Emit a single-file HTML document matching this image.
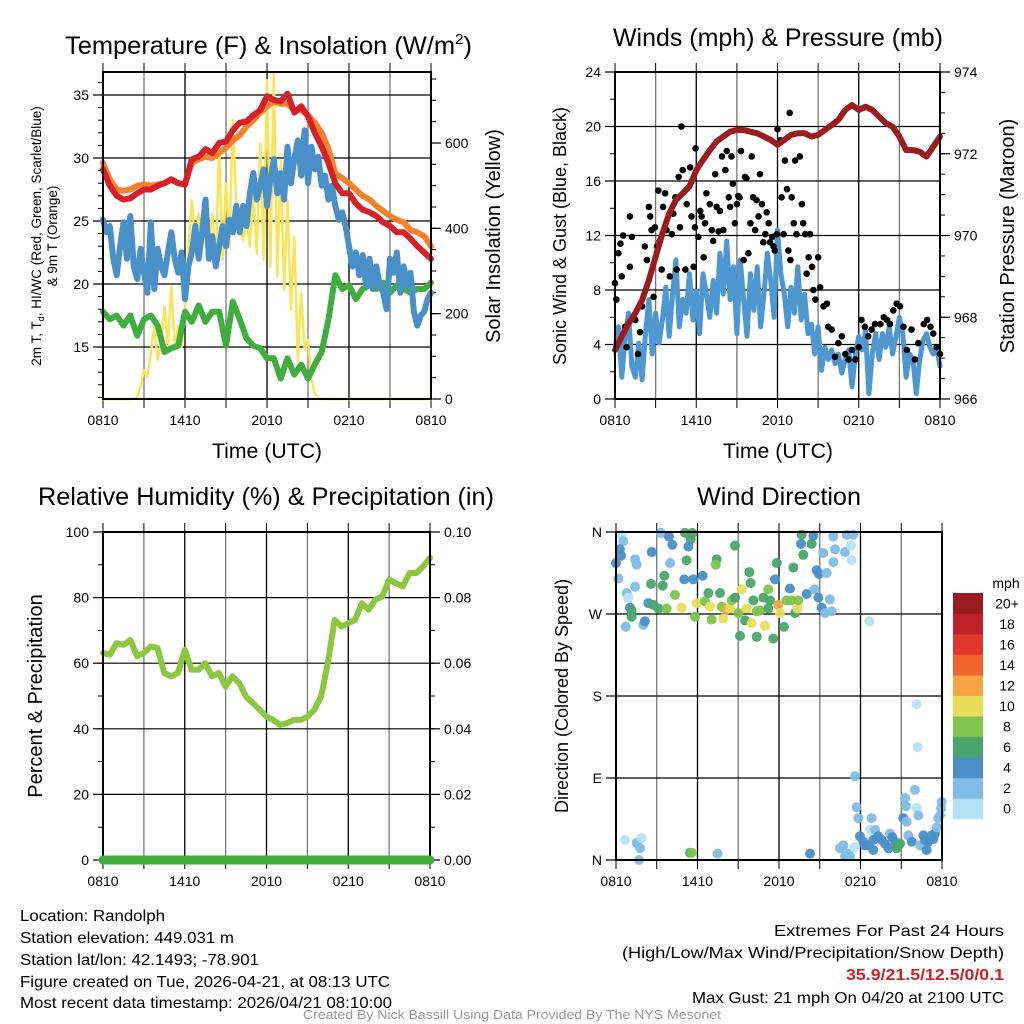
<!DOCTYPE html>
<html><head><meta charset="utf-8"><style>
body{margin:0;background:#fff}
svg{display:block;font-family:"Liberation Sans",Arial,sans-serif}
</style></head><body>
<svg id="chart" width="1024" height="1024" viewBox="0 0 1024 1024" xmlns="http://www.w3.org/2000/svg">
<g id="texts">
<text x="65" y="54" font-size="25" textLength="407" lengthAdjust="spacingAndGlyphs">Temperature (F) &amp; Insolation (W/m<tspan font-size="15" dy="-10">2</tspan><tspan dy="10">)</tspan></text>
<text x="613" y="46" font-size="25" textLength="330" lengthAdjust="spacingAndGlyphs">Winds (mph) &amp; Pressure (mb)</text>
<text x="38" y="505" font-size="25" textLength="456" lengthAdjust="spacingAndGlyphs">Relative Humidity (%) &amp; Precipitation (in)</text>
<text x="697" y="505" font-size="25" textLength="164" lengthAdjust="spacingAndGlyphs">Wind Direction</text>
<text x="212" y="458" font-size="21" textLength="110" lengthAdjust="spacingAndGlyphs">Time (UTC)</text>
<text x="723" y="458" font-size="21" textLength="110" lengthAdjust="spacingAndGlyphs">Time (UTC)</text>
<text transform="translate(41,236) rotate(-90)" font-size="13.5" text-anchor="middle">2m T, T<tspan font-size="9" dy="3">d</tspan><tspan dy="-3">, HI/WC (Red, Green, Scarlet/Blue)</tspan></text>
<text transform="translate(57,236) rotate(-90)" font-size="13.5" text-anchor="middle">&amp; 9m T (Orange)</text>
<text transform="translate(500,236) rotate(-90)" font-size="20" text-anchor="middle">Solar Insolation (Yellow)</text>
<text transform="translate(566,236) rotate(-90)" font-size="18" text-anchor="middle">Sonic Wind &amp; Gust (Blue, Black)</text>
<text transform="translate(1014,236) rotate(-90)" font-size="20" text-anchor="middle">Station Pressure (Maroon)</text>
<text transform="translate(42,696) rotate(-90)" font-size="20" text-anchor="middle">Percent &amp; Precipitation</text>
<text transform="translate(568,696) rotate(-90)" font-size="18" text-anchor="middle">Direction (Colored By Speed)</text>
<g font-size="16">
<text x="20" y="921" textLength="145" lengthAdjust="spacingAndGlyphs">Location: Randolph</text>
<text x="20" y="943" textLength="214" lengthAdjust="spacingAndGlyphs">Station elevation: 449.031 m</text>
<text x="20" y="965" textLength="239" lengthAdjust="spacingAndGlyphs">Station lat/lon: 42.1493; -78.901</text>
<text x="20" y="987" textLength="370" lengthAdjust="spacingAndGlyphs">Figure created on Tue, 2026-04-21, at 08:13 UTC</text>
<text x="20" y="1008" textLength="372" lengthAdjust="spacingAndGlyphs">Most recent data timestamp: 2026/04/21 08:10:00</text>
</g>
<g font-size="16">
<text x="774" y="936" textLength="230" lengthAdjust="spacingAndGlyphs">Extremes For Past 24 Hours</text>
<text x="622" y="958" textLength="382" lengthAdjust="spacingAndGlyphs">(High/Low/Max Wind/Precipitation/Snow Depth)</text>
<text x="846" y="980" textLength="158" lengthAdjust="spacingAndGlyphs" fill="#d0202a" font-weight="bold">35.9/21.5/12.5/0/0.1</text>
<text x="692" y="1003" textLength="312" lengthAdjust="spacingAndGlyphs">Max Gust: 21 mph On 04/20 at 2100 UTC</text>
</g>
<text x="303" y="1019" font-size="13" fill="#999" textLength="418" lengthAdjust="spacingAndGlyphs">Created By Nick Bassill Using Data Provided By The NYS Mesonet</text>
<text x="1006" y="588" font-size="14" text-anchor="middle">mph</text>
</g>
</svg>
<script>
// ---------- data ----------
const xTickLabels = ["0810","1410","2010","0210","0810"];
const tempTicks = [15,20,25,30,35];
const solarTicks = [0,200,400,600];
const windTicks = [0,4,8,12,16,20,24];
const pressTicks = [966,968,970,972,974];
const rhTicks = [0,20,40,60,80,100];
const precipTicks = ["0.00","0.02","0.04","0.06","0.08","0.10"];
const dirTickLabels = ["N","E","S","W","N"];
const speedBins = ["0","2","4","6","8","10","12","14","16","18","20+"];
const speedColors = ["#b6e2f6","#7fbde8","#4a8fc7","#4aa56c","#80c34f","#e8dd5a","#f8a443","#f0652b","#e0392b","#c0202a","#9b1c1f"];

const temp2m = [29.1,27.8,27.0,26.7,26.8,27.2,27.5,27.5,27.8,28.0,28.3,28.0,27.9,29.9,30.1,30.7,30.4,31.2,31.3,32.2,32.8,32.9,33.4,33.8,34.9,34.6,34.5,35.1,33.6,34.1,33.3,32.0,30.9,29.6,28.0,27.2,27.2,26.4,25.9,25.7,25.4,24.9,24.6,24.1,24.1,23.6,23.0,22.5,22.0];
const temp9m = [29.6,28.3,27.5,27.4,27.5,27.8,27.9,27.8,27.9,28.0,28.3,28.0,27.9,29.6,29.9,30.1,30.0,30.4,30.8,31.4,31.8,32.5,33.0,33.6,34.1,34.5,34.3,34.3,33.8,33.8,33.4,32.8,32.0,30.7,28.8,28.4,28.0,27.5,27.0,26.7,26.2,25.8,25.4,25.1,24.9,24.3,24.1,23.8,23.0];
const dewpoint = [17.8,17.2,17.5,16.7,17.5,15.9,17.2,17.5,16.7,14.6,14.9,15.1,17.8,17.0,18.3,17.0,17.8,17.8,15.1,18.6,17.2,15.7,15.1,14.9,14.1,14.1,12.5,14.1,12.8,13.6,12.5,13.6,14.6,17.2,20.7,19.6,19.9,18.8,19.6,19.9,19.6,20.1,19.3,19.9,19.6,19.3,19.6,19.6,20.1];
const windChill = [25.1,24.1,24.6,22.0,20.7,23.0,24.9,22.0,25.4,21.4,20.4,22.8,20.9,19.3,24.9,19.6,22.8,21.4,20.7,22.5,24.1,22.0,20.9,22.5,18.8,21.4,22.5,24.6,22.0,24.1,26.7,22.0,23.8,21.4,23.0,24.6,23.0,25.1,24.1,26.2,24.1,26.2,24.6,27.2,28.8,26.7,27.8,29.1,26.2,28.3,29.9,27.2,28.8,26.7,30.9,28.0,29.9,31.4,28.6,32.2,28.0,30.9,29.1,30.1,27.8,28.6,26.7,27.8,26.2,25.1,25.7,24.6,23.0,21.4,22.5,20.7,22.3,19.9,22.0,19.6,21.4,19.9,19.3,18.0,22.0,20.9,22.5,19.3,21.4,19.9,20.9,17.8,16.7,17.5,17.8,18.8,19.3];
const solar = [0,0,0,0,0,0,0,0,0,0,5,29,68,52,107,170,91,130,216,123,263,123,170,123,208,357,466,357,435,357,466,373,435,310,599,326,505,357,654,458,404,373,427,357,482,341,599,326,747,310,763,287,560,255,466,208,380,91,248,115,138,45,13,2,0,0,0,0,0,0,0,0,0,0,0,0,0,0,0,0,0,0,0,0,0,0,0,0,0,0,0,0,0,0,0,0,0];
const pressure = [967.20,967.53,967.85,968.10,968.42,968.91,969.48,970.05,970.54,970.87,971.03,971.20,971.60,971.85,972.09,972.30,972.42,972.54,972.58,972.58,972.54,972.50,972.42,972.34,972.22,972.34,972.46,972.50,972.50,972.42,972.46,972.58,972.70,972.83,973.07,973.19,973.07,973.15,973.07,972.91,972.75,972.66,972.42,972.09,972.09,972.05,971.93,972.17,972.42];
const sonicWind = [3.6,5.3,1.6,4.6,6.3,2.4,1.6,4.1,1.4,4.8,7.3,3.3,6.3,4.1,5.8,8.2,4.6,7.7,10.2,5.3,7.3,6.3,9.2,5.8,7.9,4.8,9.2,7.7,6.0,8.7,6.3,10.7,7.7,11.6,7.3,9.7,4.8,10.2,7.3,4.6,9.2,6.5,9.7,5.3,7.7,10.7,8.7,6.0,12.4,9.2,7.7,5.3,8.2,6.3,9.7,5.8,7.7,4.8,5.5,3.3,5.3,2.1,3.8,2.9,3.6,2.6,3.3,1.9,2.9,3.6,0.9,3.3,4.6,3.6,5.0,0.4,3.3,4.8,2.9,4.8,3.8,5.3,3.3,4.6,6.0,4.8,1.6,3.3,2.9,0.4,2.9,4.3,4.8,3.8,3.3,3.8,2.4];
const gustTimes = [0,0.1,0.25,0.4,0.5,0.6,0.75,0.85,1.1,1.25,1.1,1.5,1.7,1.85,2,2.2,2.35,2.5,2.6,2.7,2.85,2.95,3.1,3.2,3.3,3.45,3.55,3.7,3.8,4.05,4.2,4.3,4.45,4.55,4.7,4.8,4.9,5.0,5.2,5.3,5.55,5.65,5.8,5.9,5.95,6.15,6.3,6.4,6.55,6.65,6.75,7.0,7.15,7.25,7.4,7.5,7.65,7.75,7.9,8.0,8.15,8.25,8.4,8.5,8.6,8.7,8.85,9.0,9.1,9.2,9.3,9.5,9.6,9.7,9.85,10.0,10.1,10.2,10.35,10.45,10.6,10.7,10.85,10.95,11.1,11.2,11.35,11.45,11.6,11.7,11.8,11.95,12.0,12.2,12.3,12.45,12.55,12.7,12.8,12.9,12.95,13.05,13.2,13.3,13.4,13.65,13.8,13.9,14.05,14.15,14.3,14.4,14.55,14.65,14.8,15.0,15.15,15.4,15.65,15.75,16.0,16.25,16.5,16.75,17.0,17.25,17.5,17.75,18.0,18.2,18.45,18.7,18.95,19.2,19.6,19.85,20.1,20.3,20.55,20.8,21.05,21.3,21.55,21.9,22.15,22.4,22.8,23.05,23.3,23.5,23.75,24.0];
const gustValues = [8.5,7.3,10.7,11.4,9.0,12.0,5.3,3.8,13.4,11.9,9.7,5.8,3.3,4.9,6.8,11.2,10.2,14.1,13.4,12.4,7.5,12.6,11.2,15.3,11.6,9.5,14.1,15.1,12.4,9.0,12.1,13.6,14.8,9.5,16.3,12.6,20.0,16.8,9.5,14.3,17.0,13.4,9.7,12.6,18.4,11.9,13.8,13.4,10.4,12.9,15.1,14.3,12.4,11.6,16.5,14.1,12.3,13.8,17.8,12.4,16.8,18.2,14.8,14.1,17.8,15.8,12.9,14.3,14.9,14.8,18.2,10.2,16.3,16.2,10.7,12.9,17.8,14.8,12.4,14.6,13.4,16.5,14.3,11.5,12.1,13.7,12.9,11.5,11.9,11.2,10.9,12.1,19.8,19.0,14.8,12.1,17.5,15.4,10.9,21.0,10.2,14.8,12.9,17.5,12.1,17.8,14.3,12.9,12.1,9.2,10.4,12.1,9.7,8.0,7.3,10.4,8.2,6.8,7.0,5.3,5.1,3.1,4.1,4.6,3.3,2.9,3.6,2.9,3.8,5.8,5.3,4.6,5.1,5.5,5.5,6.0,5.8,5.5,6.5,7.0,6.8,5.3,3.6,5.1,2.9,4.1,5.5,5.8,5.3,4.8,3.8,3.3];
const rh = [63.1,62.6,66.1,65.6,67.1,62.1,63.1,65.1,64.6,57.0,56.0,57.0,64.1,58.0,58.0,60.0,56.0,57.0,52.9,56.0,53.9,49.8,47.8,45.8,43.7,42.7,41.2,41.7,42.7,42.7,43.7,45.8,49.8,60.0,73.2,71.2,72.2,73.2,78.3,76.3,79.4,80.4,85.5,84.4,83.4,87.5,87.5,89.5,92.1];
const precip = [0,0,0,0,0,0,0,0,0,0,0,0,0,0,0,0,0,0,0,0,0,0,0,0,0];
const dirTimes = [0.42,0.54,0.29,0.37,0,0.17,1.4,1.52,0.79,0.91,1.4,1.03,1.15,1.15,0.71,2.01,2.13,2.63,3.31,3.9,4.15,3.98,5.08,5.62,5.5,5.33,5.2,5.03,5.69,6.38,3.56,3.44,2.58,2.38,2.75,3.12,3.73,4.34,4.83,5.82,5.94,6.55,6.92,7.04,6.8,7.41,7.34,7.66,7.78,8.15,8.39,7.9,8.76,8.52,8.76,9.01,9.25,9.13,9.5,9.62,9.99,9.82,9.91,10.11,10.36,10.6,10.97,10.36,10.85,11.21,11.34,11.21,11.58,11.71,11.83,11.95,12.07,12.37,12.56,12.93,13.06,12.81,13.18,13.37,13.42,13.67,13.79,13.62,14.04,14.4,14.53,14.6,14.9,14.77,14.94,15.14,15.51,15.39,15.26,15.88,15.75,16.0,16.12,16.0,16.86,16.98,17.47,17.3,17.35,18.65,22.13,22.21,17.6,0.66,1.52,1.89,1.77,1.69,5.45,5.57,7.48,14.28,16.49,16.74,16.86,17.1,17.23,17.55,17.72,17.84,17.96,18.21,18.33,18.58,18.7,18.82,18.94,19.07,18.94,19.31,19.56,19.8,20.05,20.17,20.34,20.54,20.66,20.79,20.91,21.15,21.28,21.35,21.4,21.52,21.77,22.01,22.13,22.26,22.38,22.63,22.75,22.87,22.99,23.24,23.36,23.48,23.61,23.73,23.85,23.93,23.98];
const dirValues = [357,350,341,334,326,309,330,324,293,288,300,277,274,267,256,258,262,338,359,355,346,326,359,359,352,344,329,308,308,312,312,301,303,282,280,276,276,291,277,267,282,284,278,264,293,330,324,293,278,275,276,265,345,285,288,271,297,246,263,276,260,316,304,285,273,274,257,245,288,297,285,276,243,308,326,280,271,256,285,285,321,298,271,276,285,357,335,347,292,347,356,297,288,318,314,277,315,271,337,273,286,327,341,355,338,357,357,345,329,262,171,124,92,22,19,24,13,0,8,8,7,7,13,16,4,7,4,14,58,46,26,20,16,16,33,46,22,33,11,26,22,18,13,29,25,20,13,16,18,46,68,59,42,27,20,77,57,49,16,27,22,11,20,27,23,29,36,46,49,57,64];
const dirSpeeds = [1,3,5,5,5,3,3,3,3,1,3,5,7,7,3,3,5,5,3,5,5,3,7,7,7,5,7,5,5,5,7,7,7,5,7,7,9,9,11,9,11,9,11,9,7,7,9,7,9,13,11,11,7,9,7,9,11,7,7,11,11,7,7,7,9,9,11,7,7,9,7,7,7,5,7,13,11,7,9,9,7,5,7,11,9,7,7,5,5,7,5,3,5,5,5,5,3,3,3,3,3,3,3,3,3,3,3,1,1,1,1,1,3,1,3,1,3,3,7,9,3,5,3,3,3,3,3,1,3,3,5,5,5,5,1,3,5,3,5,5,5,5,5,3,5,5,7,7,7,5,3,3,3,3,5,3,1,3,3,5,5,5,5,5,5,5,3,3,3,3,3];

// ---------- helpers ----------
const NS = "http://www.w3.org/2000/svg";
const svg = document.getElementById("chart");
function mk(tag, attrs, parent){ const e=document.createElementNS(NS,tag); for(const k in attrs) e.setAttribute(k,attrs[k]); (parent||svg).appendChild(e); return e; }
function lin(d0,d1,r0,r1){ return v => r0 + (v-d0)*(r1-r0)/(d1-d0); }

function panel(name, x0, x1, y0, y1){
  const g = mk("g",{});
  
  
  const xs = lin(0,24,x0,x1);
  for(let h=3; h<24; h+=3){
    const l = mk("line",{x1:xs(h),x2:xs(h),y1:y0,y2:y1,stroke:(h%6===0)?"#000":"#777","stroke-width":1.3},g);
    
    
  }
  for(let h=0; h<=24; h+=3){
    mk("line",{x1:xs(h),x2:xs(h),y1:y1,y2:y1+9,stroke:"#000","stroke-width":1},g);
    mk("line",{x1:xs(h),x2:xs(h),y1:y0,y2:y0-9,stroke:"#000","stroke-width":1},g);
  }
  xTickLabels.forEach((s,i)=>{
    const t = mk("text",{x:xs(i*6),y:y1+26,"font-size":14,"text-anchor":"middle"},g);
    t.textContent = s;
    
    
  });
  return {g, xs};
}
function hgrid(g, ys, vals, x0, x1){
  vals.forEach(v=>{
    const l = mk("line",{x1:x0,x2:x1,y1:ys(v),y2:ys(v),stroke:"#000","stroke-width":1.2},g);
    
    
  });
}
function leftTicks(g, ys, vals, labels, x0, minorStep, lo, hi){
  if(minorStep) for(let v=lo; v<=hi+1e-9; v+=minorStep) mk("line",{x1:x0-5,x2:x0,y1:ys(v),y2:ys(v),stroke:"#000"},g);
  vals.forEach((v,i)=>{
    mk("line",{x1:x0-10,x2:x0,y1:ys(v),y2:ys(v),stroke:"#000","stroke-width":1.2},g);
    const t = mk("text",{x:x0-14,y:ys(v)+5,"font-size":14,"text-anchor":"end"},g);
    t.textContent = labels[i];
    
    
  });
}
function rightTicks(g, ys, vals, labels, x1, minorStep, lo, hi){
  if(minorStep) for(let v=lo; v<=hi+1e-9; v+=minorStep) mk("line",{x1:x1,x2:x1+5,y1:ys(v),y2:ys(v),stroke:"#000"},g);
  vals.forEach((v,i)=>{
    mk("line",{x1:x1,x2:x1+10,y1:ys(v),y2:ys(v),stroke:"#000","stroke-width":1.2},g);
    const t = mk("text",{x:x1+14,y:ys(v)+5,"font-size":14,"text-anchor":"start"},g);
    t.textContent = labels[i];
    
    
  });
}
function frame(g,x0,x1,y0,y1){
  const r = mk("rect",{x:x0,y:y0,width:x1-x0,height:y1-y0,fill:"none",stroke:"#000","stroke-width":2},g);
  
  
}
function line(g, xs, ys, vals, step, color, width, name){
  const d = vals.map((v,i)=>(i?"L":"M")+xs(i*step).toFixed(1)+","+ys(v).toFixed(1)).join("");
  const p = mk("path",{d, fill:"none", stroke:color, "stroke-width":width, "stroke-linejoin":"round","stroke-linecap":"round"},g);
  
  
  return p;
}

// ---------- Panel 1: temperature ----------
(function(){
  const X0=103,X1=431,Y0=72,Y1=399;
  const P = panel("temperature-panel",X0,X1,Y0,Y1);
  const yt = lin(15,35,347,95);
  const ys = lin(0,600,399,143);
  hgrid(P.g, yt, tempTicks, X0, X1);
  leftTicks(P.g, yt, tempTicks, tempTicks.map(String), X0, 1, 11, 36);
  rightTicks(P.g, ys, solarTicks, solarTicks.map(String), X1, 50, 0, 750);
  line(P.g, P.xs, ys, solar, 0.25, "#fbe35a", 2.5, "solar-insolation-line");
  line(P.g, P.xs, yt, dewpoint, 0.5, "#3fae3f", 6, "dewpoint-line");
  line(P.g, P.xs, yt, windChill, 0.25, "#4a90c8", 6, "wind-chill-line");
  line(P.g, P.xs, yt, temp9m, 0.5, "#f7812d", 6, "temp-9m-line");
  line(P.g, P.xs, yt, temp2m, 0.5, "#d52027", 6, "temp-2m-line");
  frame(P.g,X0,X1,Y0,Y1);
})();

// ---------- Panel 2: winds ----------
(function(){
  const X0=615,X1=940,Y0=72,Y1=399;
  const P = panel("winds-panel",X0,X1,Y0,Y1);
  const yw = lin(0,24,399,72);
  const yp = lin(966,974,399,72);
  hgrid(P.g, yw, windTicks.slice(1,-1), X0, X1);
  leftTicks(P.g, yw, windTicks, windTicks.map(String), X0, 2, 0, 24);
  rightTicks(P.g, yp, pressTicks, pressTicks.map(String), X1, 0.5, 966, 974);
  line(P.g, P.xs, yw, sonicWind, 0.25, "#4f97d1", 5, "sonic-wind-line");
  gustTimes.forEach((t,i)=>{
    const c = mk("circle",{cx:P.xs(t),cy:yw(gustValues[i]),r:3.3,fill:"#000"},P.g);
    
    
  });
  line(P.g, P.xs, yp, pressure, 0.5, "#9b1c1f", 6, "pressure-line");
  frame(P.g,X0,X1,Y0,Y1);
})();

// ---------- Panel 3: humidity ----------
(function(){
  const X0=103,X1=430,Y0=532,Y1=860;
  const P = panel("humidity-panel",X0,X1,Y0,Y1);
  const yr = lin(0,100,860,532);
  const yq = lin(0,0.1,860,532);
  hgrid(P.g, yr, rhTicks.slice(1,-1), X0, X1);
  leftTicks(P.g, yr, rhTicks, rhTicks.map(String), X0, 10, 0, 100);
  rightTicks(P.g, yq, precipTicks.map(Number), precipTicks, X1, 0.01, 0, 0.1);
  line(P.g, P.xs, yr, rh, 0.5, "#8dc63f", 6, "relative-humidity-line");
  frame(P.g,X0,X1,Y0,Y1);
  line(P.g, P.xs, yq, precip, 1, "#3fae3f", 9, "precipitation-line");
})();

// ---------- Panel 4: wind direction ----------
(function(){
  const X0=616,X1=942,Y0=532,Y1=860;
  const P = panel("wind-direction-panel",X0,X1,Y0,Y1);
  const yd = lin(0,360,860,532);
  const dirVals = [0,90,180,270,360];
  hgrid(P.g, yd, dirVals.slice(1,-1), X0, X1);
  leftTicks(P.g, yd, dirVals, dirTickLabels, X0, 0, 0, 0);
  dirTimes.forEach((t,i)=>{
    const bin = Math.min(10, Math.floor(dirSpeeds[i]/2));
    const c = mk("circle",{cx:P.xs(t),cy:yd(dirValues[i]),r:5,fill:speedColors[bin],"fill-opacity":0.95},P.g);
    
    
  });
  frame(P.g,X0,X1,Y0,Y1);
  const cb = mk("g",{});
  
  
  const bh = 226/speedBins.length;
  speedBins.forEach((lab,i)=>{
    const y = 819 - (i+1)*bh;
    const r = mk("rect",{x:953,y:y,width:30,height:bh+0.3,fill:speedColors[i]},cb);
    
    
    const t = mk("text",{x:1007,y:y+bh/2+5,"font-size":14,"text-anchor":"middle"},cb);
    t.textContent = lab;
    
    
  });
})();
</script>
</body></html>
